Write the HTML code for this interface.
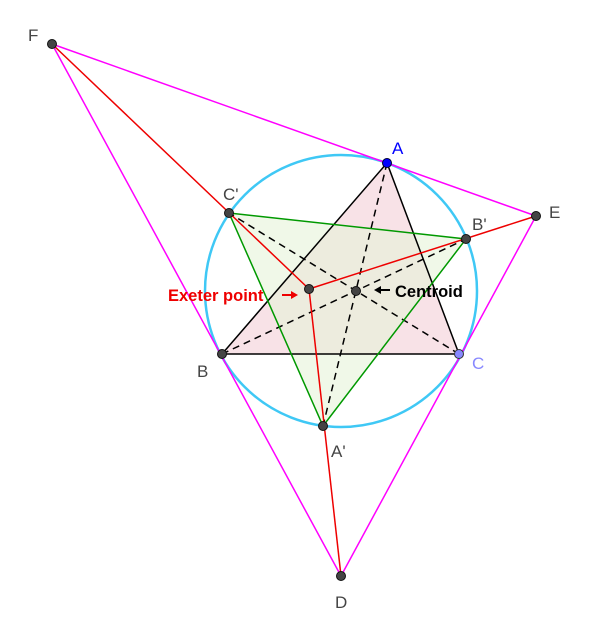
<!DOCTYPE html>
<html><head><style>html,body{margin:0;padding:0;background:#fff}svg{display:block}</style></head><body>
<svg width="600" height="639" viewBox="0 0 600 639" xmlns="http://www.w3.org/2000/svg" font-family="Liberation Sans, Arial, sans-serif">
<polygon points="387,163 222,354 459,354" fill="#f7dde3" fill-opacity="0.85"/>
<polygon points="229,213 466,239 323,426" fill="#e6f3d8" fill-opacity="0.6"/>
<circle cx="341" cy="291" r="136" fill="none" stroke="#3fc8f5" stroke-width="2.5"/>
<g stroke="#f0f" stroke-width="1.5" fill="none">
<line x1="52" y1="44" x2="536" y2="216"/><line x1="52" y1="44" x2="341" y2="576"/><line x1="536" y1="216" x2="341" y2="576"/>
</g>
<g stroke="#000" stroke-width="1.5" stroke-dasharray="7,5">
<line x1="387" y1="163" x2="323" y2="426"/><line x1="222" y1="354" x2="466" y2="239"/><line x1="459" y1="354" x2="229" y2="213"/>
</g>
<g stroke="#000" stroke-width="1.5"><polygon points="387,163 222,354 459,354" fill="none"/></g>
<g stroke="#090" stroke-width="1.5"><polygon points="229,213 466,239 323,426" fill="none"/></g>
<g stroke="#e00" stroke-width="1.5">
<line x1="52" y1="44" x2="309" y2="289"/><line x1="309" y1="289" x2="536" y2="216"/><line x1="309" y1="289" x2="341" y2="576"/>
</g>
<g fill="#444" stroke="#111" stroke-width="1">
<circle cx="52" cy="44" r="4.5"/><circle cx="536" cy="216" r="4.5"/><circle cx="341" cy="576" r="4.5"/>
<circle cx="229" cy="213" r="4.5"/><circle cx="466" cy="239" r="4.5"/><circle cx="323" cy="426" r="4.5"/>
<circle cx="222" cy="354" r="4.5"/><circle cx="309" cy="289" r="4.5"/><circle cx="356" cy="291" r="4.5"/>
</g>
<circle cx="387" cy="163" r="4.5" fill="#00f" stroke="#003" stroke-width="1"/>
<circle cx="459" cy="354" r="4.5" fill="#88f" stroke="#333" stroke-width="1"/>
<g font-size="17" fill="#444">
<text x="28" y="41">F</text><text x="549" y="218">E</text><text x="335" y="608">D</text>
<text x="223" y="200">C'</text><text x="472" y="230">B'</text><text x="331" y="457">A'</text>
<text x="197" y="377">B</text>
</g>
<text x="392" y="154" font-size="17" fill="#00f">A</text>
<text x="472" y="369" font-size="17" fill="#88f">C</text>
<text x="168" y="301" font-size="16.5" font-weight="bold" fill="#e00">Exeter point</text>
<line x1="282" y1="295" x2="293" y2="295" stroke="#e00" stroke-width="2"/>
<polygon points="298,295 291,291 291,299" fill="#e00"/>
<line x1="379" y1="290" x2="390" y2="290" stroke="#000" stroke-width="2"/>
<polygon points="374,290 381,286 381,294" fill="#000"/>
<text x="395" y="297" font-size="16.5" font-weight="bold" fill="#000">Centroid</text>
</svg>
</body></html>
